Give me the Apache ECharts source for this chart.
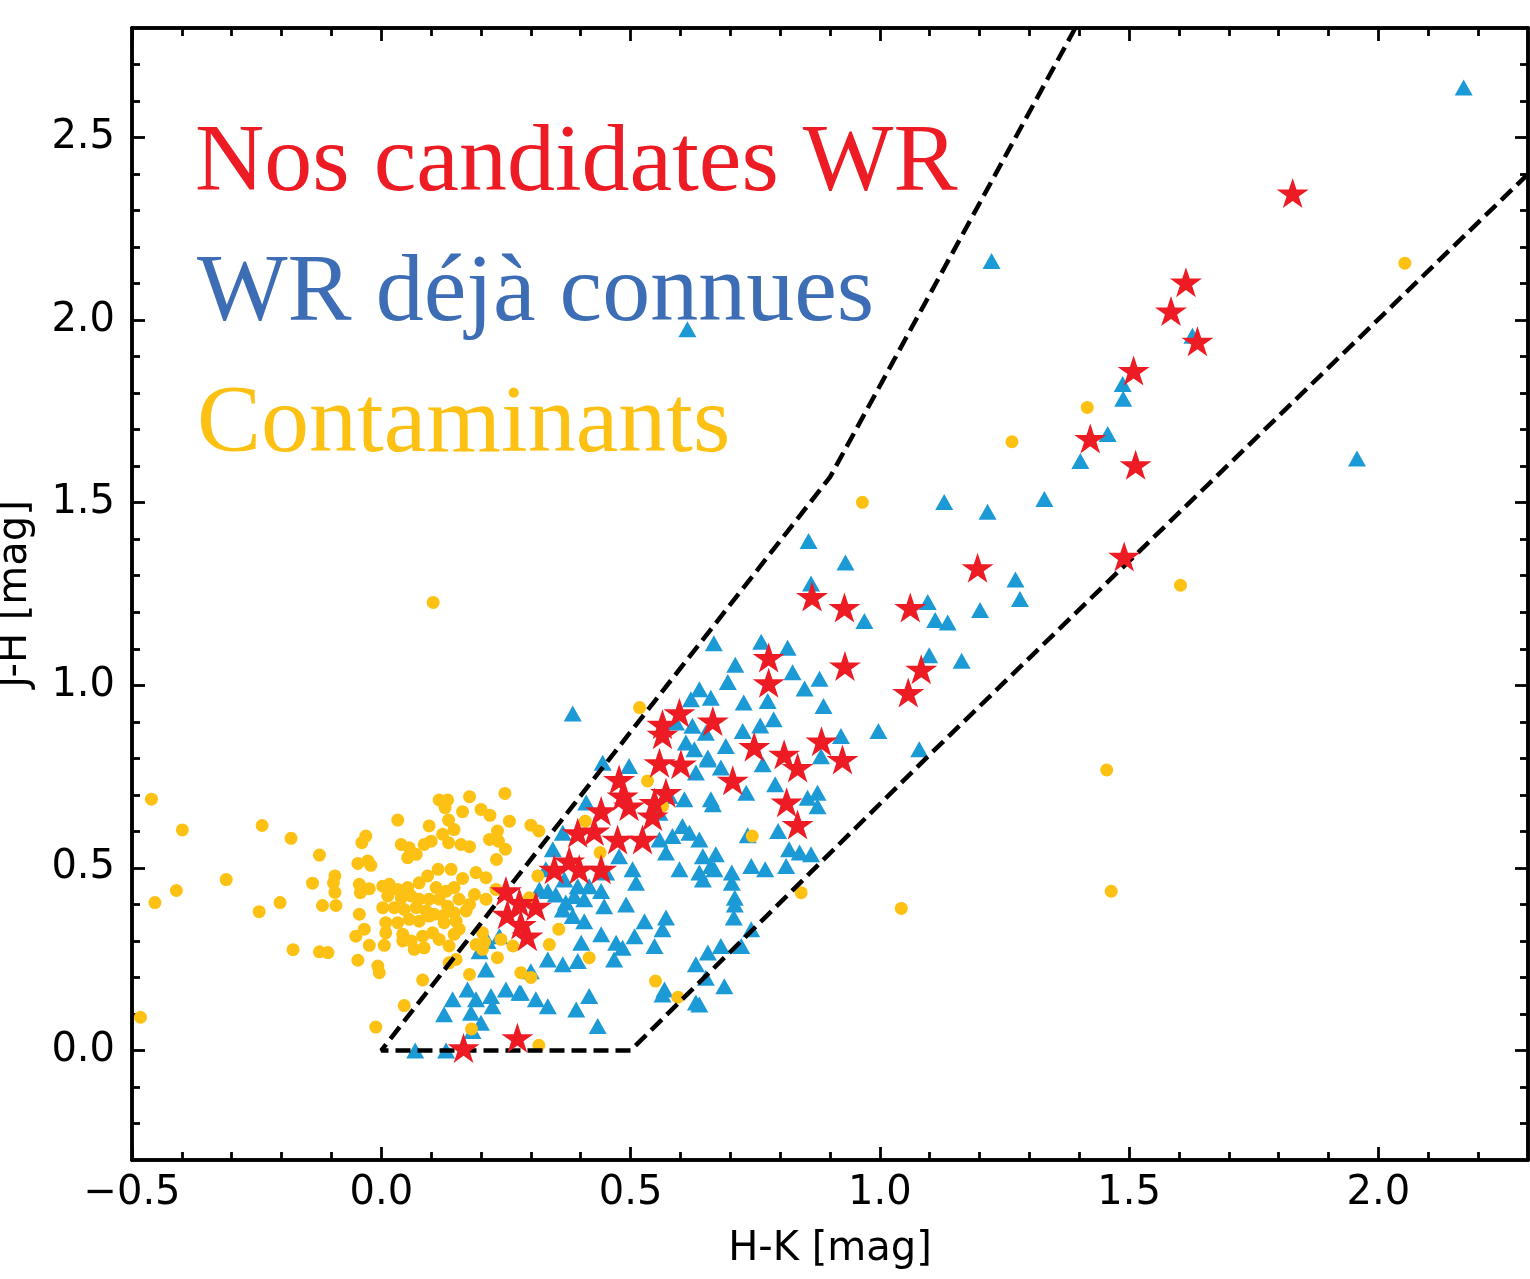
<!DOCTYPE html>
<html>
<head>
<meta charset="utf-8">
<script src="https://cdn.jsdelivr.net/npm/echarts@6/dist/echarts.min.js"></script>
<style>
html, body { margin: 0; padding: 0; background: #fff; }
#main { width: 1530px; height: 1279px; }
</style>
</head>
<body>
<div id="main"></div>
<script>
// tick positions
var xMajor = [-0.5, 0, 0.5, 1, 1.5, 2];
var xMinor = [-0.4, -0.3, -0.2, -0.1, 0.1, 0.2, 0.3, 0.4, 0.6, 0.7, 0.8, 0.9, 1.1, 1.2, 1.3, 1.4, 1.6, 1.7, 1.8, 1.9, 2.1, 2.2];
var yMajor = [0, 0.5, 1, 1.5, 2, 2.5];
var yMinor = [-0.2, -0.1, 0.1, 0.2, 0.3, 0.4, 0.6, 0.7, 0.8, 0.9, 1.1, 1.2, 1.3, 1.4, 1.6, 1.7, 1.8, 1.9, 2.1, 2.2, 2.3, 2.4, 2.6, 2.7];

// selection box (dashed)
var boundary = [[1.392, 2.8], [0.9, 1.57], [0, 0], [0.5, 0], [1.1, 0.81], [2.3, 2.4]];

// contaminants [H-K, J-H]
var contaminants = [
  [-0.483, 0.091], [-0.461, 0.688], [-0.454, 0.405], [-0.411, 0.438], [-0.399, 0.604], [-0.311, 0.468],
  [-0.245, 0.380], [-0.239, 0.616], [-0.203, 0.405], [-0.181, 0.581], [-0.177, 0.276], [-0.138, 0.458],
  [-0.124, 0.535], [-0.124, 0.270], [-0.118, 0.397], [-0.107, 0.268], [-0.096, 0.459], [-0.093, 0.478],
  [-0.093, 0.433], [-0.091, 0.397], [-0.042, 0.432],
  [0.116, 0.686], [0.133, 0.686], [0.128, 0.665], [0.177, 0.695], [0.248, 0.704], [0.200, 0.660],
  [0.218, 0.644], [0.163, 0.654], [0.257, 0.628], [0.300, 0.617], [0.316, 0.601], [0.033, 0.631],
  [0.096, 0.615], [0.135, 0.631], [0.146, 0.605], [0.123, 0.592], [-0.031, 0.587], [-0.039, 0.569],
  [0.040, 0.564], [0.056, 0.555], [0.070, 0.537], [0.053, 0.528], [0.086, 0.564], [0.100, 0.573],
  [0.135, 0.569], [0.160, 0.564], [0.177, 0.558], [0.217, 0.578], [0.233, 0.601], [0.235, 0.573],
  [0.249, 0.551], [0.231, 0.523], [-0.047, 0.512], [-0.027, 0.519], [-0.021, 0.507], [0.114, 0.496],
  [0.140, 0.496], [0.163, 0.471], [0.190, 0.487], [0.210, 0.473], [-0.044, 0.455], [-0.024, 0.443],
  [0.003, 0.450], [0.016, 0.455], [0.033, 0.441], [0.053, 0.446], [0.076, 0.459], [0.093, 0.478],
  [0.110, 0.446], [0.130, 0.436], [0.146, 0.446], [0.156, 0.414], [0.187, 0.427], [0.210, 0.414],
  [0.230, 0.441], [0.013, 0.423], [0.040, 0.418], [0.060, 0.423], [0.076, 0.414], [0.096, 0.414],
  [0.116, 0.414], [0.133, 0.395], [0.003, 0.391], [0.026, 0.391], [0.046, 0.386], [0.070, 0.391],
  [0.090, 0.382], [0.106, 0.373], [0.123, 0.368], [0.146, 0.377], [0.170, 0.382], [0.177, 0.400],
  [-0.044, 0.373], [0.009, 0.350], [0.033, 0.350], [0.056, 0.359], [0.076, 0.354], [0.096, 0.368],
  [0.126, 0.350], [0.150, 0.354], [0.156, 0.332], [-0.051, 0.313], [-0.034, 0.332], [0.009, 0.322],
  [0.043, 0.318], [0.060, 0.300], [0.083, 0.313], [0.103, 0.322], [0.116, 0.304], [0.146, 0.318],
  [-0.024, 0.288], [0.006, 0.288], [0.043, 0.300], [0.066, 0.277], [0.086, 0.281], [0.136, 0.286],
  [-0.047, 0.247], [-0.007, 0.231], [-0.004, 0.213], [0.083, 0.193], [0.136, 0.240], [0.150, 0.249],
  [0.203, 0.322], [0.190, 0.290], [0.203, 0.277], [0.240, 0.304], [0.264, 0.286], [0.233, 0.254],
  [0.177, 0.208], [0.280, 0.213], [0.300, 0.200], [0.297, 0.418], [0.314, 0.478], [0.046, 0.123],
  [-0.011, 0.064], [0.181, 0.059], [0.316, 0.014], [0.207, 0.297],
  [0.104, 1.227], [0.518, 0.939], [0.409, 0.628], [0.534, 0.738], [0.439, 0.542], [0.564, 0.669],
  [0.356, 0.332], [0.337, 0.290], [0.417, 0.254], [0.550, 0.190], [0.595, 0.146], [0.744, 0.587],
  [0.842, 0.432], [1.043, 0.389], [1.416, 1.761], [1.265, 1.667], [1.603, 1.274], [1.455, 0.768],
  [1.464, 0.436], [0.965, 1.501], [2.053, 2.156]
];

// known WR stars
var knownWR = [
  [2.171, 2.637], [1.627, 1.957], [1.487, 1.825], [1.488, 1.785], [1.457, 1.688], [1.402, 1.614],
  [1.957, 1.621], [1.330, 1.510], [0.614, 1.975], [1.224, 2.162],
  [1.129, 1.502], [1.216, 1.475], [1.272, 1.290], [1.281, 1.236], [1.201, 1.206], [1.096, 1.228],
  [1.111, 1.179], [1.136, 1.172], [1.099, 1.082], [1.164, 1.067], [1.079, 0.825],
  [0.857, 1.395], [0.931, 1.336], [0.862, 1.279], [0.969, 1.176], [0.667, 1.115], [0.762, 1.119],
  [0.815, 1.103], [0.710, 1.056], [0.695, 1.009], [0.825, 1.036], [0.879, 1.018], [0.849, 0.991],
  [0.887, 0.943], [0.661, 0.966], [0.727, 0.953], [0.775, 0.957], [0.638, 0.989], [0.787, 0.907],
  [0.725, 0.875], [0.760, 0.890], [0.997, 0.875], [0.691, 0.834], [0.655, 0.802], [0.922, 0.861],
  [0.765, 0.784], [0.882, 0.806], [0.681, 0.775],
  [0.665, 0.674], [0.732, 0.706], [0.790, 0.729], [0.855, 0.692], [0.875, 0.706], [0.875, 0.669],
  [0.735, 0.589], [0.796, 0.601], [0.818, 0.551], [0.839, 0.542], [0.862, 0.537], [0.812, 0.505],
  [0.645, 0.532], [0.671, 0.537], [0.668, 0.496], [0.742, 0.505], [0.770, 0.496], [0.645, 0.468],
  [0.703, 0.487], [0.703, 0.459], [0.709, 0.418], [0.709, 0.400], [0.707, 0.364], [0.742, 0.332],
  [0.722, 0.286], [0.681, 0.286], [0.655, 0.268], [0.651, 0.199], [0.688, 0.176], [0.638, 0.126],
  [0.317, 0.441], [0.334, 0.437], [0.350, 0.427], [0.370, 0.405], [0.387, 0.423], [0.407, 0.414],
  [0.441, 0.437], [0.447, 0.395], [0.491, 0.400], [0.511, 0.459], [0.528, 0.354], [0.571, 0.364],
  [0.564, 0.332], [0.364, 0.386], [0.384, 0.368], [0.407, 0.354], [0.401, 0.295], [0.394, 0.245],
  [0.441, 0.318], [0.471, 0.295], [0.484, 0.281], [0.467, 0.249], [0.508, 0.313], [0.548, 0.286],
  [0.364, 0.236], [0.334, 0.249], [0.300, 0.217], [0.280, 0.158], [0.334, 0.121], [0.391, 0.112],
  [0.417, 0.149], [0.434, 0.067], [0.568, 0.167], [0.631, 0.236], [0.631, 0.131], [0.564, 0.153],
  [0.384, 0.923], [0.621, 0.962], [0.591, 0.898], [0.624, 0.889], [0.651, 0.870], [0.611, 0.843],
  [0.628, 0.825], [0.655, 0.797], [0.631, 0.761], [0.661, 0.688], [0.608, 0.688], [0.604, 0.615],
  [0.584, 0.587], [0.618, 0.596], [0.661, 0.505], [0.638, 0.487], [0.598, 0.496], [0.558, 0.578],
  [0.571, 0.542], [0.504, 0.496], [0.497, 0.779], [0.444, 0.788], [0.411, 0.679], [0.364, 0.596],
  [0.344, 0.551], [0.330, 0.496], [0.367, 0.468], [0.394, 0.450], [0.417, 0.450], [0.451, 0.487],
  [0.477, 0.532], [0.558, 0.651], [0.578, 0.697], [0.638, 0.578],
  [0.210, 0.222], [0.250, 0.167], [0.277, 0.158], [0.143, 0.140], [0.173, 0.167], [0.190, 0.140],
  [0.223, 0.121], [0.126, 0.099], [0.180, 0.103], [0.200, 0.076], [0.220, 0.149], [0.310, 0.140],
  [0.213, 0.300], [0.237, 0.313], [0.197, 0.272], [0.068, 0.000], [0.130, 0.000], [0.183, 0.053]
];

// our WR candidates
var candidates = [
  [1.828, 2.348], [1.614, 2.104], [1.584, 2.025], [1.637, 1.942], [1.509, 1.862], [1.422, 1.676],
  [1.513, 1.604], [1.490, 1.353], [1.196, 1.322], [1.061, 1.213], [1.083, 1.044], [1.057, 0.980],
  [0.864, 1.243], [0.929, 1.213], [0.777, 1.076], [0.930, 1.053], [0.777, 1.007], [0.665, 0.902],
  [0.748, 0.832], [0.808, 0.811], [0.883, 0.847], [0.925, 0.797], [0.835, 0.775], [0.705, 0.740],
  [0.813, 0.680], [0.835, 0.619],
  [0.598, 0.925], [0.564, 0.893], [0.564, 0.866], [0.558, 0.788], [0.601, 0.784], [0.477, 0.742],
  [0.571, 0.706], [0.484, 0.697], [0.548, 0.679], [0.497, 0.669], [0.441, 0.656], [0.544, 0.642],
  [0.394, 0.596], [0.427, 0.601], [0.474, 0.578], [0.524, 0.578], [0.377, 0.519], [0.397, 0.496],
  [0.441, 0.496], [0.347, 0.496],
  [0.250, 0.437], [0.277, 0.405], [0.253, 0.373], [0.280, 0.345], [0.293, 0.313], [0.310, 0.395],
  [0.165, 0.007], [0.273, 0.035]
];

var starPath = 'path://M50 0 L61.23 34.55 L97.55 34.55 L68.17 55.9 L79.39 90.45 L50 69.1 L20.61 90.45 L31.83 55.9 L2.45 34.55 L38.77 34.55 Z';

function fmt(v) {
  return v < 0 ? '\u2212' + Math.abs(v).toFixed(1) : v.toFixed(1);
}

function xAx(pos, ticks, len, labels) {
  return {
    type: 'value', position: pos, min: -0.5, max: 2.3,
    splitLine: { show: false },
    axisLine: { show: true, onZero: false, lineStyle: { color: '#000', width: 3.5 } },
    axisTick: { show: true, inside: true, length: len, customValues: ticks, lineStyle: { color: '#000', width: 2.8 } },
    axisLabel: labels ? {
      show: true, customValues: xMajor, formatter: fmt, margin: 14,
      color: '#000', fontSize: 40, fontFamily: 'DejaVu Sans'
    } : { show: false },
    name: labels ? 'H-K [mag]' : '', nameLocation: 'middle', nameGap: 70,
    nameTextStyle: { color: '#000', fontSize: 40, fontFamily: 'DejaVu Sans' }
  };
}

function yAx(pos, ticks, len, labels) {
  return {
    type: 'value', position: pos, min: -0.3, max: 2.8,
    splitLine: { show: false },
    axisLine: { show: true, onZero: false, lineStyle: { color: '#000', width: 3.5 } },
    axisTick: { show: true, inside: true, length: len, customValues: ticks, lineStyle: { color: '#000', width: 2.8 } },
    axisLabel: labels ? {
      show: true, customValues: yMajor, formatter: fmt, margin: 17,
      color: '#000', fontSize: 40, fontFamily: 'DejaVu Sans'
    } : { show: false },
    name: labels ? 'J-H [mag]' : '', nameLocation: 'middle', nameGap: 96,
    nameTextStyle: { color: '#000', fontSize: 40, fontFamily: 'DejaVu Sans' }
  };
}

var chart = echarts.init(document.getElementById('main'), null, { renderer: 'canvas' });
var option = {
  backgroundColor: '#fff',
  animation: false,
  grid: { left: 132, right: 2, top: 28, bottom: 119, outerBoundsMode: 'none', containLabel: false },
  xAxis: [
    xAx('bottom', xMajor, 13, true),
    xAx('bottom', xMinor, 8, false),
    xAx('top', xMajor, 13, false),
    xAx('top', xMinor, 8, false)
  ],
  yAxis: [
    yAx('left', yMajor, 13, true),
    yAx('left', yMinor, 8, false),
    yAx('right', yMajor, 13, false),
    yAx('right', yMinor, 8, false)
  ],
  graphic: [
    { type: 'text', left: 195, top: 117, style: { text: 'Nos candidates WR', fill: '#ED1C24', fontSize: 96, fontFamily: 'Liberation Serif' } },
    { type: 'text', left: 197, top: 247, style: { text: 'WR d\u00e9j\u00e0 connues', fill: '#3D6DB5', fontSize: 96, fontFamily: 'Liberation Serif' } },
    { type: 'text', left: 197, top: 378, style: { text: 'Contaminants', fill: '#FDC114', fontSize: 96, fontFamily: 'Liberation Serif' } }
  ],
  series: [
    {
      name: 'WR connues', type: 'scatter', data: knownWR,
      symbol: 'triangle', symbolSize: [18, 16],
      itemStyle: { color: '#1B9AD6', opacity: 1 }, silent: true, z: 2
    },
    {
      name: 'Contaminants', type: 'scatter', data: contaminants,
      symbol: 'circle', symbolSize: 13,
      itemStyle: { color: '#FDC114', opacity: 1 }, silent: true, z: 3
    },
    {
      name: 'Limites', type: 'line', data: boundary, symbol: 'none',
      lineStyle: { color: '#000', width: 4.5, type: [15, 7] }, silent: true, z: 4
    },
    {
      name: 'Candidates', type: 'scatter', data: candidates,
      symbol: starPath, symbolSize: [32, 30],
      itemStyle: { color: '#ED1C24', opacity: 1 }, silent: true, z: 5
    }
  ]
};
chart.setOption(option);
</script>
</body>
</html>
